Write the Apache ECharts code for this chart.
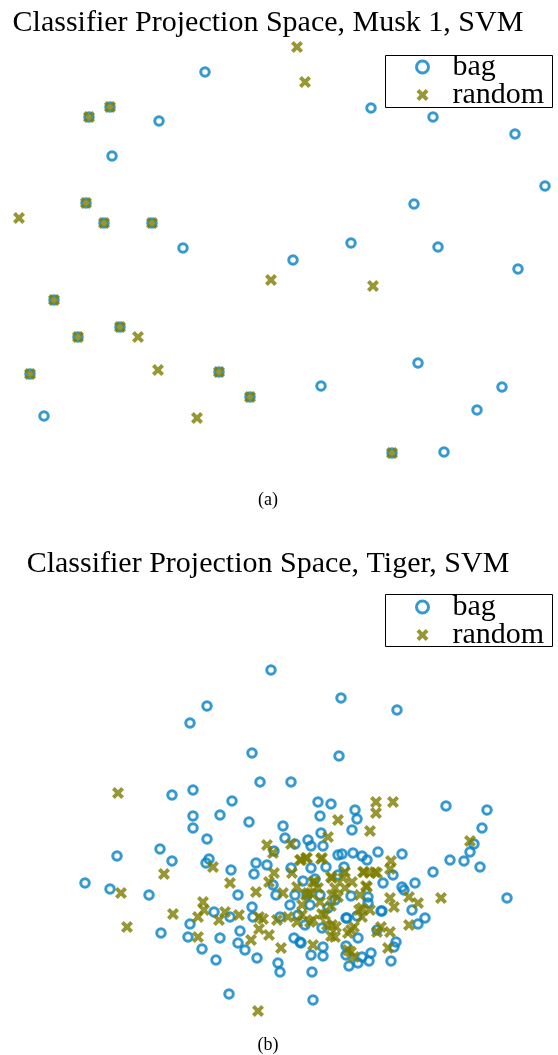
<!DOCTYPE html>
<html>
<head>
<meta charset="utf-8">
<script src="https://cdn.jsdelivr.net/npm/echarts@6/dist/echarts.min.js"></script>
<style>html,body{margin:0;padding:0;background:#fff}#c{width:558px;height:1055px}</style>
</head>
<body>
<div id="c"></div>
<script>
// Panel (a): Musk 1 — projected classifier coordinates (horizontal, vertical)
const musk_bag = [[205,72],[159,121],[112,156],[371,108],[433,117],[515,134],[545,186],[414,204],[351,243],[438,247],[183,248],[293,260],[518,269],[418,363],[321,386],[502,387],[477,410],[444,452],[44,416],
  [89,117],[110,107],[86,203],[104,223],[152,223],[54,300],[78,337],[120,327],[30,374],[219,372],[250,397],[392,453]];
const musk_random = [[297,47],[305,82],[19,218],[271,280],[373,286],[138,337],[158,370],[197,418],
  [89,117],[110,107],[86,203],[104,223],[152,223],[54,300],[78,337],[120,327],[30,374],[219,372],[250,397],[392,453]];

// Panel (b): Tiger
const tiger_bag = [[271,670],[207,706],[190,723],[341,698],[397,710],[252,753],[339,756],[260,782],[291,782],
  [172,795],[193,790],[232,801],[318,802],[331,804],[355,810],[357,819],[320,816],[446,806],[487,810],[482,828],[193,816],[193,828],[220,815],[249,822],[283,826],[207,839],[352,830],[321,833],[285,838],[308,840],[311,846],[323,846],[295,844],[274,851],[160,849],[117,856],[172,861],[209,859],[206,863],[402,854],[378,852],[353,853],[338,855],[342,854],[362,856],[367,860],[450,860],[464,861],[470,852],[474,844],[480,867],[433,872],[256,863],[267,865],[231,870],[254,874],[291,868],[311,868],[326,867],[344,867],[393,875],
  [85,883],[110,889],[149,895],[238,895],[273,885],[276,895],[383,883],[402,887],[404,890],[415,883],[507,898],[351,896],[368,897],[368,903],[252,907],[214,912],[230,917],[381,911],[412,910],[346,918],[425,918],[418,924],[190,924],[161,933],[188,937],[220,938],[240,931],[238,943],[245,950],[202,949],[216,960],[257,958],[278,963],[280,972],[294,938],[301,943],[312,972],[311,955],[323,956],[346,946],[346,955],[349,966],[358,963],[362,957],[371,953],[369,961],[391,961],[394,947],[396,942],[358,938],[305,925],[229,994],[313,1000],
  [303,881],[315,879],[338,875],[307,895],[320,895],[328,908],[322,928],[300,942],[323,947],[357,916],[347,918],[382,911],[377,930],[253,917],[280,917],[295,895],[310,905],[335,900],[290,905],[298,915]];
const tiger_random = [[118,793],[376,802],[393,802],[376,813],[338,820],[370,831],[328,837],[470,841],[267,845],[291,844],[273,853],[301,860],[306,858],[321,859],[391,861],[390,869],[164,874],[213,867],[274,873],[292,873],[364,872],[375,872],[370,873],[230,883],[269,882],[256,892],[121,893],[313,882],[331,877],[343,878],[352,882],[366,886],[297,887],[283,893],[306,895],[311,893],[335,888],[338,897],[390,898],[409,897],[418,903],[441,898],[203,902],[204,910],[173,914],[198,917],[219,920],[225,912],[239,915],[259,917],[263,919],[277,920],[288,917],[297,922],[302,915],[310,922],[322,914],[331,906],[359,910],[370,910],[394,907],[127,927],[259,929],[269,935],[251,940],[198,937],[327,925],[336,927],[331,936],[351,930],[354,927],[381,927],[377,932],[390,932],[409,925],[281,948],[313,945],[388,948],[351,952],[354,957],[258,1011],[320,902],[362,917],[367,887],
  [322,858],[307,858],[300,860],[345,872],[315,882],[332,878],[363,872],[377,873],[308,893],[332,895],[325,915],[313,920],[332,925],[348,933],[335,937],[348,950],[362,908],[302,905],[318,888],[345,888],[360,895]];

const titles = ['Classifier Projection Space, Musk 1, SVM', 'Classifier Projection Space, Tiger, SVM'];
const captions = ['(a)', '(b)'];
const seriesNames = ['bag', 'random'];

const BLUE = '#0481c4', OLIVE = '#7d7d00';
const XPATH = 'path://M0,2.8L2.8,0L6,3.2L9.2,0L12,2.8L8.8,6L12,9.2L9.2,12L6,8.8L2.8,12L0,9.2L3.2,6Z';
const FONT = '"Liberation Serif", "DejaVu Serif", serif';

function bagSeries(data, idx) {
  return { name: seriesNames[0], type: 'scatter', xAxisIndex: idx, yAxisIndex: idx, data: data,
    symbol: 'circle', symbolSize: 8.5,
    itemStyle: { color: 'rgba(255,255,255,0)', borderColor: BLUE, borderWidth: 3 }, emphasis: { disabled: true }, z: 2 };
}
function randSeries(data, idx) {
  return { name: seriesNames[1], type: 'scatter', xAxisIndex: idx, yAxisIndex: idx, data: data,
    symbol: XPATH, symbolSize: 12,
    itemStyle: { color: OLIVE, borderWidth: 0 }, emphasis: { disabled: true }, z: 3 };
}
function legend(top) {
  return { top: top, left: 385, orient: 'vertical', padding: [0, 10, 0, 30], itemGap: -2,
    itemWidth: 50, itemHeight: 12, borderWidth: 0,
    selectedMode: false,
    textStyle: { fontFamily: FONT, fontSize: 30, color: '#000' },
    data: [{ name: 'bag', icon: 'circle', itemStyle: { color: 'rgba(255,255,255,0)', borderColor: BLUE, borderWidth: 3 } },
           { name: 'random', icon: XPATH, itemStyle: { color: OLIVE, borderWidth: 0 } }] };
}
function frame(y) {
  return { type: 'rect', z: 10, silent: true,
    shape: { x: 385.5, y: y, width: 167, height: 52 }, style: { fill: null, stroke: '#000', lineWidth: 1 } };
}
function title(text, top, size) {
  return { text: text, left: 268, top: top, textAlign: 'center', padding: 0,
    textStyle: { fontFamily: FONT, fontSize: size, fontWeight: 'normal', color: '#000' } };
}

const chart = echarts.init(document.getElementById('c'), null, { renderer: 'canvas' });
chart.setOption({
  animation: false,
  backgroundColor: '#fff',
  title: [title(titles[0], 8, 30), title(captions[0], 491, 18), title(titles[1], 549, 30), title(captions[1], 1036, 18)],
  legend: [legend(52), legend(592)],
  graphic: [frame(55.5), frame(594.5)],
  grid: [{ left: 0, top: 0, width: 558, height: 520 }, { left: 0, top: 520, width: 558, height: 535 }],
  xAxis: [{ type: 'value', gridIndex: 0, min: 0, max: 558, show: false },
          { type: 'value', gridIndex: 1, min: 0, max: 558, show: false }],
  yAxis: [{ type: 'value', gridIndex: 0, min: 0, max: 520, inverse: true, show: false },
          { type: 'value', gridIndex: 1, min: 520, max: 1055, inverse: true, show: false }],
  series: [bagSeries(musk_bag, 0), randSeries(musk_random, 0), bagSeries(tiger_bag, 1), randSeries(tiger_random, 1)]
});
</script>
</body>
</html>
